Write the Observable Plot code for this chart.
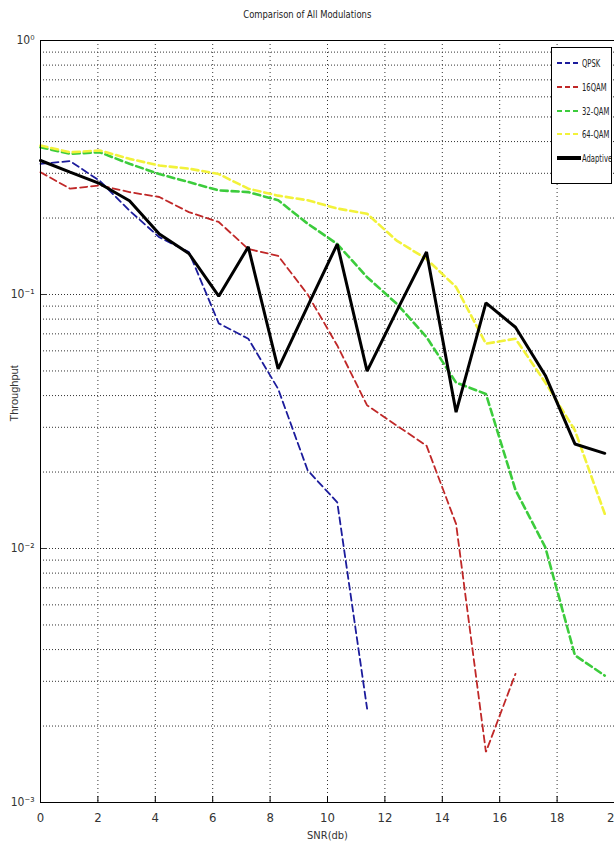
<!DOCTYPE html>
<html>
<head>
<meta charset="utf-8">
<script src="https://cdn.jsdelivr.net/npm/d3@7"></script>
<script src="https://cdn.jsdelivr.net/npm/@observablehq/plot@0.6"></script>
<style>
  body { margin: 0; background: #fff; width: 614px; height: 850px; overflow: hidden; position: relative; }
  .narrow { font-family: "Liberation Sans Narrow", "Arial Narrow", "DejaVu Sans Condensed", "Liberation Sans", sans-serif; }
  #title { height: 28px; text-align: center; font-size: 11px; line-height: 30px; color: #222; }
  #title span { display: inline-block; transform: scaleX(0.85); }
  #legend { position: absolute; left: 551px; top: 47px; width: 59px; height: 135px; border: 1px solid #000; background: #fff; overflow: hidden; }
  #legend .row { position: absolute; left: 5px; height: 14px; display: flex; align-items: center; font-size: 10.5px; color: #222; white-space: nowrap; }
  #legend .row span { display: inline-block; transform: scaleX(0.72); transform-origin: left center; }
  #legend svg { margin-right: 1px; flex: none; }
</style>
</head>
<body>
<div id="title" class="narrow"><span>Comparison of All Modulations</span></div>
<div id="chart"></div>
<div id="legend" class="narrow"></div>
<script>
// SNR values (dB)
const snr = [0, 1.03, 2.07, 3.1, 4.14, 5.17, 6.21, 7.24, 8.28, 9.31, 10.34, 11.38, 12.41, 13.45, 14.48, 15.52, 16.55, 17.59, 18.62, 19.66];

// Throughput per modulation
const qpsk     = [0.327, 0.335, 0.28, 0.214, 0.168, 0.147, 0.077, 0.067, 0.0425, 0.0203, 0.0152, 0.00234];
const qam16    = [0.303, 0.261, 0.269, 0.253, 0.242, 0.211, 0.193, 0.151, 0.142, 0.1, 0.063, 0.0366, 0.0305, 0.0254, 0.0125, 0.00158, 0.00321];
const qam32    = [0.38, 0.358, 0.363, 0.327, 0.298, 0.277, 0.257, 0.253, 0.235, 0.19, 0.158, 0.117, 0.092, 0.068, 0.045, 0.0406, 0.017, 0.0101, 0.0038, 0.00316];
const qam64    = [0.386, 0.363, 0.369, 0.342, 0.322, 0.313, 0.298, 0.261, 0.245, 0.235, 0.218, 0.208, 0.163, 0.138, 0.107, 0.064, 0.067, 0.045, 0.0292, 0.0137];
const adaptive = [0.337, 0.303, 0.273, 0.234, 0.173, 0.145, 0.0985, 0.154, 0.051, 0.09, 0.158, 0.0499, 0.086, 0.147, 0.0344, 0.0927, 0.0743, 0.048, 0.0258, 0.0237];

const seriesNames = ["QPSK", "16QAM", "32-QAM", "64-QAM", "Adaptive"];
const xTicks = [0, 2, 4, 6, 8, 10, 12, 14, 16, 18, 20];
const yTicks = [1, 0.1, 0.01, 0.001];
const yTickLabels = ["10\u2070", "10\u207B\u00B9", "10\u207B\u00B2", "10\u207B\u00B3"];

const styles = {
  "QPSK":     {stroke: "#1c1c9c", width: 1.8, dash: "7,4"},
  "16QAM":    {stroke: "#c02828", width: 1.8, dash: "7,4"},
  "32-QAM":   {stroke: "#3ccc3c", width: 2.6, dash: "7,4"},
  "64-QAM":   {stroke: "#f2f23a", width: 2.6, dash: "7,4"},
  "Adaptive": {stroke: "#000000", width: 3, dash: null}
};

const valuesBySeries = {"QPSK": qpsk, "16QAM": qam16, "32-QAM": qam32, "64-QAM": qam64, "Adaptive": adaptive};
const rows = seriesNames.map(name => valuesBySeries[name].map((v, i) => ({series: name, x: snr[i], y: v})));

// minor grid positions on the log axis
const yGrid = [];
for (const d of [0.001, 0.01, 0.1]) for (let k = 1; k <= 9; k++) yGrid.push(+(d * k).toPrecision(3));
yGrid.push(1);
const xGrid = xTicks.slice(1, -1);

const font = '"Liberation Sans Narrow", "Arial Narrow", "DejaVu Sans Condensed", "Liberation Sans", sans-serif';

const chart = Plot.plot({
  width: 614,
  height: 822,
  marginTop: 12,
  marginLeft: 40,
  marginRight: 0,
  marginBottom: 48,
  style: {fontFamily: font, fontSize: "12px", color: "#333", background: "#fff", overflow: "visible"},
  x: {domain: [0, 20]},
  y: {type: "log", domain: [0.001, 1]},
  marks: [
    Plot.ruleY(yGrid, {stroke: "#333", strokeDasharray: "1,2", strokeWidth: 1}),
    Plot.ruleX(xGrid, {stroke: "#333", strokeDasharray: "1,3", strokeWidth: 1}),
    ...rows.map(r => {
      const s = styles[r[0].series];
      return Plot.line(r, {x: "x", y: "y", stroke: s.stroke, strokeWidth: s.width, strokeDasharray: s.dash, strokeLinejoin: "miter"});
    }),
    Plot.axisX({ticks: xTicks, tickSize: 0, tickPadding: 10, tickFormat: d => String(d), fontSize: 13, label: null}),
    Plot.axisX({ticks: xTicks, tickSize: -6, tickFormat: () => "", label: null, stroke: "#000"}),
    Plot.axisY({ticks: yTicks, tickSize: 0, tickPadding: 6, tickFormat: d => yTickLabels[yTicks.indexOf(d)], fontSize: 12, label: null}),
    Plot.axisY({ticks: yTicks, tickSize: -6, tickFormat: () => "", label: null}),
    Plot.frame({stroke: "#000", strokeWidth: 1}),
    Plot.text(["Throughput"], {frameAnchor: "left", rotate: -90, dx: -26, fontSize: 11, fontFamily: "Liberation Sans, sans-serif", fill: "#333"}),
    Plot.text(["SNR(db)"], {frameAnchor: "bottom", dy: 36, fontSize: 11, fill: "#333"})
  ]
});
document.getElementById("chart").appendChild(chart);

// legend
const legend = document.getElementById("legend");
seriesNames.forEach((name, i) => {
  const s = styles[name];
  const row = document.createElement("div");
  row.className = "row";
  row.style.top = (8 + i * 23.8) + "px";
  const svg = d3.create("svg").attr("width", 24).attr("height", 8);
  svg.append("line").attr("x1", 0).attr("x2", 24).attr("y1", 4).attr("y2", 4)
    .attr("stroke", s.stroke).attr("stroke-width", name === "Adaptive" ? 4 : 2.2)
    .attr("stroke-dasharray", s.dash ? "5,3" : null);
  row.appendChild(svg.node());
  const t = document.createElement("span");
  t.textContent = name;
  row.appendChild(t);
  legend.appendChild(row);
});
</script>
</body>
</html>
